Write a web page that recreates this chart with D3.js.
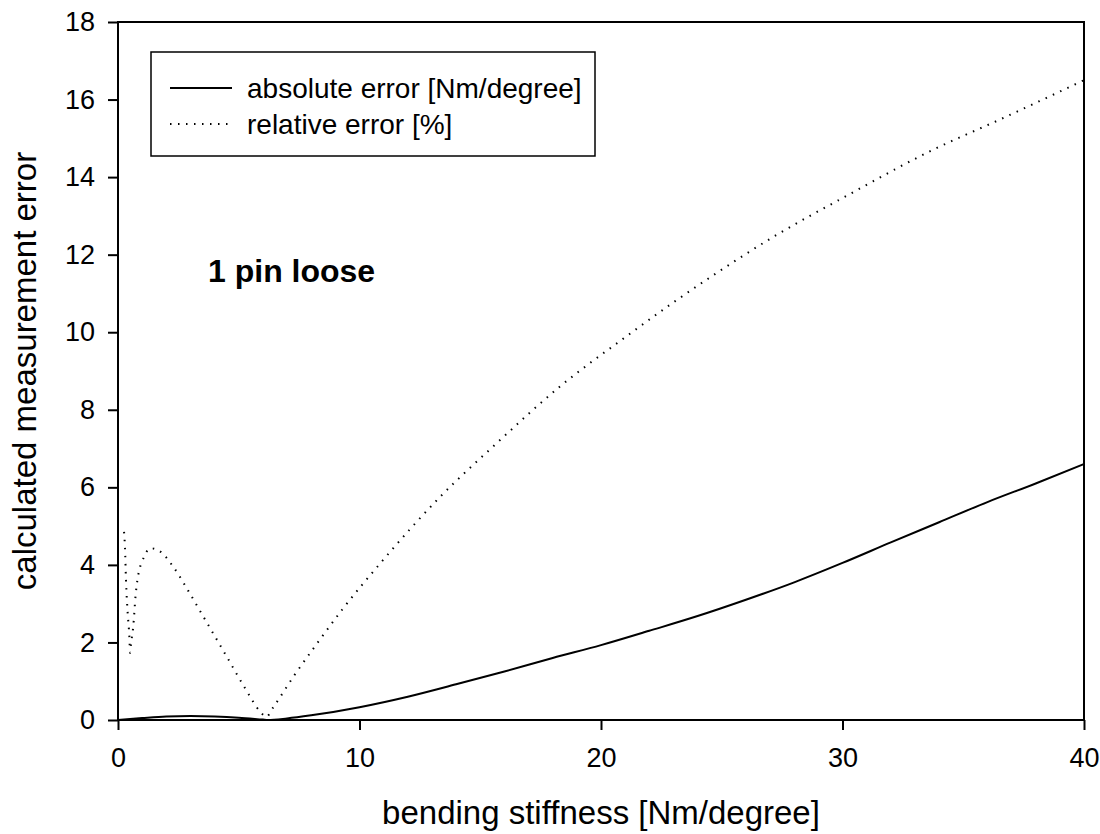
<!DOCTYPE html>
<html>
<head>
<meta charset="utf-8">
<script src="https://cdn.jsdelivr.net/npm/d3@7"></script>
<style>
    body { margin: 0; background: #fff; }
    text { font-family: Arial, "Liberation Sans", sans-serif; fill: #000; }
</style>
</head>
<body>
<svg id="chart" width="1100" height="834"></svg>
<script>
// values
let absStiffness = [0, 1, 2, 3, 4, 5, 6, 6.2, 7, 8, 10, 12, 14, 16, 18, 20, 22, 24, 26, 28, 30, 32, 34, 36, 38, 40];
let absError = [0, 0.05, 0.09, 0.1, 0.09, 0.06, 0.01, 0, 0.04, 0.12, 0.33, 0.6, 0.92, 1.25, 1.6, 1.93, 2.3, 2.68, 3.1, 3.55, 4.05, 4.58, 5.1, 5.62, 6.1, 6.6];

let relStiffness = [0.25, 0.29, 0.33, 0.40, 0.47, 0.50, 0.54, 0.63, 0.73, 0.88, 0.99, 1.35, 1.69, 2.29, 2.91, 3.69, 4.46, 5.25, 5.9, 6.14, 6.42, 7.31, 8.25, 9.3, 10.9, 13.3, 15.7, 18.3, 21, 23, 24.65, 27.3, 30, 33.8, 36.5, 40];
let relError = [4.85, 4.43, 3.61, 2.77, 2.15, 1.73, 1.97, 2.4, 3.22, 3.87, 4.07, 4.43, 4.37, 3.95, 3.33, 2.5, 1.68, 0.83, 0.21, 0.08, 0.32, 1.16, 1.98, 2.86, 4.07, 5.73, 7.15, 8.6, 9.87, 10.77, 11.47, 12.52, 13.46, 14.72, 15.48, 16.5];

let xTicks = [0, 10, 20, 30, 40];
let yTicks = [0, 2, 4, 6, 8, 10, 12, 14, 16, 18];
let legendLabels = ['absolute error [Nm/degree]', 'relative error [%]'];

let svg = d3.select('#chart');
let plot = {'l': 118, 'r': 1084, 't': 22, 'b': 720};

let x = d3.scaleLinear().domain([0, 40]).range([plot.l, plot.r]);
let y = d3.scaleLinear().domain([0, 18]).range([plot.b, plot.t]);

// frame
svg.append('rect')
    .attr('x', plot.l).attr('y', plot.t)
    .attr('width', plot.r - plot.l).attr('height', plot.b - plot.t)
    .attr('fill', 'none').attr('stroke', '#000').attr('stroke-width', 2);

// axes ----------------------------------------------------------------------
let xAxis = svg.append('g')
    .attr('transform', 'translate(0,' + plot.b + ')')
    .call(d3.axisBottom(x).tickValues(xTicks).tickSize(10).tickPadding(18));
let yAxis = svg.append('g')
    .attr('transform', 'translate(' + plot.l + ',0)')
    .call(d3.axisLeft(y).tickValues(yTicks).tickSize(10).tickPadding(13));

[xAxis, yAxis].forEach((g) => {
    g.select('.domain').remove();
    g.selectAll('.tick line').attr('stroke', '#000').attr('stroke-width', 2);
    g.selectAll('.tick text').style('font-size', '27px').style('font-family', 'Arial, "Liberation Sans", sans-serif');
});

svg.append('text')
    .attr('x', (plot.l + plot.r) / 2).attr('y', 824)
    .attr('text-anchor', 'middle')
    .style('font-size', '33px')
    .text('bending stiffness [Nm/degree]');

svg.append('text')
    .attr('transform', 'translate(36,' + ((plot.t + plot.b) / 2) + ') rotate(-90)')
    .attr('text-anchor', 'middle')
    .style('font-size', '33px')
    .text('calculated measurement error');

// lines ----------------------------------------------------------------------
let line = d3.line()
    .x((d) => x(d[0]))
    .y((d) => y(d[1]))
    .curve(d3.curveMonotoneX);

svg.append('path')
    .datum(d3.zip(absStiffness, absError))
    .attr('fill', 'none').attr('stroke', '#000').attr('stroke-width', 2)
    .attr('d', line);

svg.append('path')
    .datum(d3.zip(relStiffness, relError))
    .attr('fill', 'none').attr('stroke', '#000').attr('stroke-width', 2)
    .attr('stroke-dasharray', '1.5,6.5')
    .attr('d', line);

// legend ----------------------------------------------------------------------
let legend = svg.append('g');
legend.append('rect')
    .attr('x', 151).attr('y', 52).attr('width', 444).attr('height', 104)
    .attr('fill', '#fff').attr('stroke', '#000').attr('stroke-width', 1.5);

legendLabels.forEach((label, i) => {
    let ly = 88 + i * 36;
    legend.append('line')
        .attr('x1', 170).attr('x2', 232).attr('y1', ly).attr('y2', ly)
        .attr('stroke', '#000').attr('stroke-width', 2)
        .attr('stroke-dasharray', i === 0 ? null : '1.5,6.5');
    legend.append('text')
        .attr('x', 247).attr('y', ly + 10)
        .style('font-size', '28px')
        .text(label);
});

svg.append('text')
    .attr('x', 208).attr('y', 282)
    .style('font-size', '32px').style('font-weight', 'bold')
    .text('1 pin loose');
</script>
</body>
</html>
